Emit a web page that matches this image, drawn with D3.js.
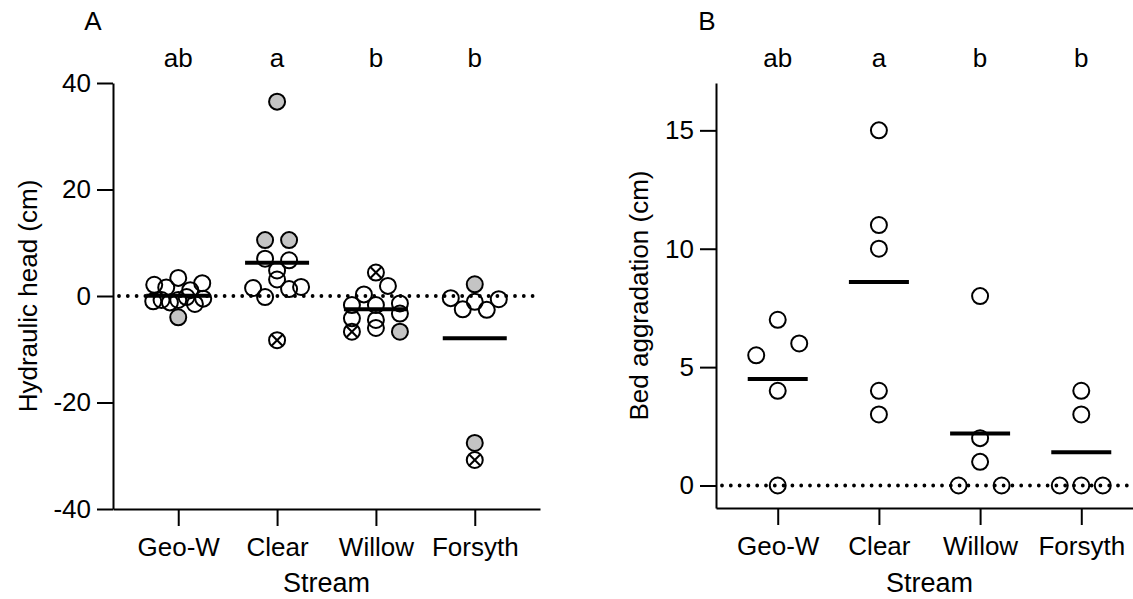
<!DOCTYPE html>
<html>
<head>
<meta charset="utf-8">
<script src="https://cdn.jsdelivr.net/npm/d3@7"></script>
<style>
  body { margin: 0; background: #fff; }
</style>
</head>
<body>
<div id="chart"></div>
<script>
const FONT = "'Liberation Sans', Arial, sans-serif"

const streams = ["Geo-W", "Clear", "Willow", "Forsyth"]
const sigLetters = ["ab", "a", "b", "b"]

// Panel A - hydraulic head (cm); marker: o open, g grey, x crossed
const headGeoW = [2.1, 3.4, 2.4, 1.6, 1.1, -1.0, -0.75, -1.2, -0.75, -0.2, -1.5, -0.5, -4.0]
const markGeoW = ["o", "o", "o", "o", "o", "o", "o", "o", "o", "o", "o", "o", "g"]
const headClear = [36.5, 10.5, 10.5, 7.0, 6.7, 4.8, 1.5, 3.1, 1.7, -0.2, 1.3, -8.3]
const markClear = ["g", "g", "g", "o", "o", "o", "o", "o", "o", "o", "o", "x"]
const headWillow = [4.4, 0.3, 1.9, -1.7, -1.7, -1.4, -4.2, -4.5, -3.3, -6.7, -6.0, -6.7]
const markWillow = ["x", "o", "o", "o", "o", "o", "o", "o", "o", "x", "o", "g"]
const headForsyth = [2.2, -0.4, -1.1, -0.6, -2.5, -2.6, -27.6, -30.8]
const markForsyth = ["g", "o", "o", "o", "o", "o", "g", "x"]
const headTicks = [40, 20, 0, -20, -40]

// Panel B - bed aggradation (cm)
const bedGeoW = [7, 5.5, 6, 4, 0]
const bedClear = [15, 11, 10, 4, 3]
const bedWillow = [8, 2, 1, 0, 0]
const bedForsyth = [4, 3, 0, 0, 0]
const bedTicks = [15, 10, 5, 0]

const svg = d3.select("#chart").append("svg")
  .attr("width", 1133)
  .attr("height", 599)
  .style("background", "#fff")

// spread points of a column into rows, like a scatter dot plot
function spread(values, y, binH, sMax, wMax) {
  const idx = d3.range(values.length).sort((a, b) => (y(values[a]) - y(values[b])) || (a - b))
  const off = new Array(values.length).fill(0)
  let row = []
  const flush = () => {
    row.sort((a, b) => a - b)
    const n = row.length
    const s = n > 1 ? Math.min(sMax, wMax / (n - 1)) : 0
    row.forEach((k, j) => { off[k] = (j - (n - 1) / 2) * s })
    row = []
  }
  idx.forEach(k => {
    if (row.length && y(values[k]) - y(values[row[0]]) >= binH) flush()
    row.push(k)
  })
  flush()
  return off
}

function drawPanel(p) {
  const g = svg.append("g")

  const x = d3.scalePoint().domain(streams).range([p.left, p.right]).padding(p.pad)
  const y = d3.scaleLinear().domain(p.yDomain).range([p.bottom, p.top])

  // axes
  const yAxis = g.append("g")
    .attr("transform", `translate(${p.left},0)`)
    .call(d3.axisLeft(y).tickValues(p.ticks).tickFormat(d => String(d))
      .tickSize(16).tickSizeOuter(0).tickPadding(6))
  const xAxis = g.append("g")
    .attr("transform", `translate(0,${p.bottom})`)
    .call(d3.axisBottom(x).tickSize(17).tickSizeOuter(0).tickPadding(12))
  ;[yAxis, xAxis].forEach(a => {
    a.attr("font-family", FONT).attr("font-size", 26)
    a.selectAll("path, line").attr("stroke", "#000").attr("stroke-width", 2)
    a.selectAll("text").attr("fill", "#000")
  })

  // zero reference line
  g.append("line")
    .attr("x1", p.left + 6).attr("x2", p.right)
    .attr("y1", y(0)).attr("y2", y(0))
    .attr("stroke", "#000")
    .attr("stroke-width", 3.8)
    .attr("stroke-linecap", "round")
    .attr("stroke-dasharray", "0 8.8")

  // points
  p.groups.forEach((vals, i) => {
    const marks = p.marks ? p.marks[i] : vals.map(() => "o")
    const off = spread(vals, y, p.binH, p.sMax, p.wMax)
    const pts = g.selectAll(null)
      .data(vals.map((v, k) => ({ v, m: marks[k], dx: off[k] })))
      .enter().append("g")
      .attr("transform", d => `translate(${x(streams[i]) + d.dx},${y(d.v)})`)
    pts.append("circle")
      .attr("r", 8)
      .attr("fill", d => d.m === "g" ? "#c4c4c4" : "none")
      .attr("stroke", "#000")
      .attr("stroke-width", 2)
    pts.filter(d => d.m === "x").each(function () {
      const c = d3.select(this)
      c.append("line").attr("x1", -5.5).attr("y1", -5.5).attr("x2", 5.5).attr("y2", 5.5)
      c.append("line").attr("x1", -5.5).attr("y1", 5.5).attr("x2", 5.5).attr("y2", -5.5)
    })
    pts.selectAll("line").attr("stroke", "#000").attr("stroke-width", 2)

    // mean bar
    const m = d3.mean(vals)
    g.append("line")
      .attr("x1", x(streams[i]) - p.barHalf).attr("x2", x(streams[i]) + p.barHalf)
      .attr("y1", y(m)).attr("y2", y(m))
      .attr("stroke", "#000")
      .attr("stroke-width", 4)

    // significance letters
    g.append("text")
      .attr("x", x(streams[i]))
      .attr("y", 67)
      .attr("text-anchor", "middle")
      .attr("font-family", FONT)
      .attr("font-size", 26)
      .text(sigLetters[i])
  })

  // labels
  g.append("text")
    .attr("transform", `translate(${p.yLabelX},${(p.top + p.bottom) / 2}) rotate(-90)`)
    .attr("text-anchor", "middle")
    .attr("font-family", FONT)
    .attr("font-size", 26)
    .text(p.yLabel)
  g.append("text")
    .attr("x", (x(streams[0]) + x(streams[3])) / 2)
    .attr("y", 592)
    .attr("text-anchor", "middle")
    .attr("font-family", FONT)
    .attr("font-size", 27)
    .text("Stream")
  g.append("text")
    .attr("x", p.tagX)
    .attr("y", 30)
    .attr("text-anchor", "middle")
    .attr("font-family", FONT)
    .attr("font-size", 26)
    .text(p.tag)
}

drawPanel({
  tag: "A", tagX: 93,
  left: 113, right: 540, top: 83, bottom: 509, pad: 0.66,
  yDomain: [-40, 40], ticks: headTicks,
  yLabel: "Hydraulic head (cm)", yLabelX: 37,
  groups: [headGeoW, headClear, headWillow, headForsyth],
  marks: [markGeoW, markClear, markWillow, markForsyth],
  binH: 9, sMax: 24, wMax: 50, barHalf: 32
})

drawPanel({
  tag: "B", tagX: 707,
  left: 716, right: 1143, top: 83, bottom: 508, pad: 0.61,
  yDomain: [-0.95, 17], ticks: bedTicks,
  yLabel: "Bed aggradation (cm)", yLabelX: 648,
  groups: [bedGeoW, bedClear, bedWillow, bedForsyth],
  binH: 16, sMax: 43, wMax: 43, barHalf: 30
})
</script>
</body>
</html>
